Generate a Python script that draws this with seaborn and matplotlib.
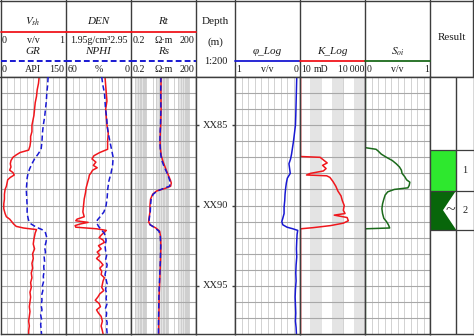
import matplotlib
matplotlib.use("Agg")
import matplotlib.pyplot as plt
from matplotlib.lines import Line2D
from matplotlib.patches import Rectangle, Polygon
from matplotlib.ticker import FixedLocator, LogLocator, NullFormatter
import numpy as np
import seaborn as sns

# ---------------- log curves (depth in m) ----------------
vsh_depth = [82.0, 82.4, 82.8, 83.2, 83.6, 84.0, 84.4, 85.0, 85.4, 85.7, 86.0, 86.3, 86.55, 86.7,
             86.85, 87.0, 87.2, 87.4, 87.6, 87.8, 87.95, 88.1, 88.25, 88.4, 88.6, 88.8, 89.0, 89.3,
             89.6, 89.9, 90.2, 90.5, 90.7, 90.85, 91.0, 91.15, 91.3, 91.4, 91.5, 91.7, 91.9, 92.1,
             92.4, 92.7, 93.0, 93.3, 93.6, 93.9, 94.2, 94.5, 94.8, 95.1, 95.4, 95.7, 96.0, 96.3,
             96.6, 96.9, 97.2, 97.5, 97.8, 98.0]
vsh = [0.59, 0.58, 0.56, 0.55, 0.53, 0.52, 0.51, 0.48, 0.48, 0.46, 0.46, 0.45, 0.43, 0.30,
       0.24, 0.19, 0.16, 0.15, 0.16, 0.14, 0.19, 0.21, 0.15, 0.11, 0.10, 0.09, 0.07, 0.06,
       0.06, 0.05, 0.05, 0.07, 0.09, 0.14, 0.17, 0.20, 0.24, 0.35, 0.55, 0.53, 0.52, 0.51,
       0.50, 0.52, 0.49, 0.50, 0.48, 0.49, 0.47, 0.48, 0.46, 0.47, 0.45, 0.46, 0.45, 0.44,
       0.45, 0.44, 0.43, 0.44, 0.43, 0.43]

gr_depth = [82.0, 82.5, 83.0, 83.5, 84.0, 84.5, 85.0, 85.5, 86.0, 86.5, 86.8, 87.1, 87.4, 87.7,
            88.0, 88.3, 88.7, 89.0, 89.5, 90.0, 90.5, 90.9, 91.15, 91.35, 91.5, 91.7, 92.0, 92.3,
            92.6, 92.9, 93.2, 93.5, 93.8, 94.1, 94.4, 94.7, 95.0, 95.3, 95.6, 95.9, 96.2, 96.5,
            96.8, 97.1, 97.4, 97.7, 98.0]
gr = [109, 108, 106, 105, 103, 101, 98, 96, 95, 93, 86, 78, 72, 67,
      63, 61, 60, 59, 60, 61, 61, 64, 70, 82, 95, 103, 106, 104,
      101, 103, 100, 101, 99, 100, 98, 99, 96, 97, 94, 95, 93, 95,
      92, 94, 92, 93, 94]

den_depth = [82.0, 82.5, 83.0, 83.5, 84.0, 84.5, 85.0, 85.5, 86.0, 86.5, 86.7, 86.9, 87.1, 87.3,
             87.5, 87.65, 87.8, 88.0, 88.1, 88.3, 88.6, 88.9, 89.2, 89.6, 90.0, 90.4, 90.7, 90.85,
             90.95, 91.05, 91.15, 91.25, 91.35, 91.45, 91.55, 91.7, 91.85, 92.0, 92.15, 92.3, 92.5,
             92.7, 92.9, 93.1, 93.3, 93.5, 93.7, 93.9, 94.1, 94.3, 94.5, 94.7, 94.9, 95.1, 95.3,
             95.5, 95.7, 95.9, 96.1, 96.3, 96.5, 96.7, 96.9, 97.2, 97.5, 97.8, 98.0]
den = [2.55, 2.56, 2.57, 2.58, 2.56, 2.57, 2.58, 2.60, 2.59, 2.59, 2.47, 2.38, 2.35, 2.41,
       2.37, 2.43, 2.36, 2.33, 2.31, 2.30, 2.28, 2.26, 2.25, 2.23, 2.22, 2.21, 2.23, 2.12,
       2.10, 2.29, 2.17, 2.09, 2.10, 2.42, 2.57, 2.53, 2.49, 2.46, 2.52, 2.54, 2.45,
       2.49, 2.43, 2.47, 2.42, 2.48, 2.52, 2.47, 2.50, 2.49, 2.54, 2.52, 2.51, 2.50, 2.53,
       2.47, 2.44, 2.40, 2.46, 2.48, 2.42, 2.45, 2.49, 2.51, 2.49, 2.51, 2.52]

nphi_depth = [82.0, 82.5, 83.0, 83.5, 84.0, 84.5, 85.0, 85.5, 86.0, 86.5, 87.0, 87.5, 88.0, 88.5,
              89.0, 89.5, 90.0, 90.4, 90.7, 90.9, 91.1, 91.3, 91.5, 91.7, 91.9, 92.2, 92.5, 92.8,
              93.1, 93.4, 93.7, 94.0, 94.3, 94.6, 94.9, 95.2, 95.5, 95.8, 96.1, 96.4, 96.7, 97.0,
              97.3, 97.6, 98.0]
nphi = [27, 26, 24.5, 24, 23.5, 22.5, 22, 21, 19.5, 18, 16.5, 17, 18.5, 20.5,
        21.5, 22, 23, 25, 28.5, 31, 31.5, 30, 27.5, 25, 23.5, 23, 24, 23.5,
        22.5, 23.5, 22, 23, 24, 23, 22, 23.5, 22.5, 23, 22, 23.5, 22.5, 23,
        22, 22.5, 22]

res_depth = [82.0, 83.0, 84.0, 85.0, 85.5, 86.0, 86.5, 86.9, 87.2, 87.5, 87.8, 88.1, 88.4, 88.6,
             88.8, 88.95, 89.1, 89.3, 89.6, 90.0, 90.4, 90.8, 91.0, 91.2, 91.4, 91.6, 91.9, 92.5,
             93.5, 94.5, 95.5, 96.5, 97.5, 98.0]
rt = [4.9, 4.8, 4.9, 4.7, 4.5, 4.4, 4.6, 5.0, 5.8, 7.0, 8.5, 10.5, 13.0, 14.5,
      13.5, 7.0, 3.0, 2.0, 1.6, 1.5, 1.5, 1.35, 1.3, 1.5, 2.8, 4.2, 4.6, 4.8,
      4.6, 4.3, 4.0, 3.9, 3.8, 3.8]
rs = [4.8, 4.7, 4.8, 4.6, 4.4, 4.3, 4.5, 4.8, 5.3, 6.4, 8.0, 10.0, 12.0, 13.0,
      12.0, 6.0, 3.2, 2.1, 1.7, 1.6, 1.55, 1.4, 1.35, 1.55, 2.6, 3.9, 4.5, 4.7,
      4.5, 4.2, 3.9, 3.8, 3.7, 3.7]

phi_depth = [82.0, 82.8, 83.6, 84.4, 85.0, 85.5, 86.0, 86.4, 86.8, 87.1, 87.4, 87.7, 88.0, 88.3,
             88.6, 88.9, 89.3, 89.7, 90.1, 90.5, 90.8, 91.0, 91.2, 91.35, 91.45, 91.55, 91.8,
             92.2, 92.7, 93.2, 93.7, 94.2, 94.7, 95.2, 95.7, 96.2, 96.7, 97.2, 97.6, 98.0]
phi = [0.05, 0.055, 0.06, 0.065, 0.07, 0.085, 0.10, 0.115, 0.13, 0.145, 0.17, 0.16, 0.15, 0.195,
       0.21, 0.22, 0.23, 0.235, 0.245, 0.245, 0.265, 0.28, 0.265, 0.20, 0.11, 0.035, 0.045,
       0.05, 0.055, 0.05, 0.06, 0.065, 0.06, 0.07, 0.075, 0.07, 0.065, 0.07, 0.06, 0.055]

perm_depth = [82.0, 86.95, 87.0, 87.2, 87.35, 87.5, 87.7, 87.85, 88.0, 88.1, 88.15, 88.25, 88.5,
              88.8, 89.1, 89.4, 89.7, 90.0, 90.3, 90.5, 90.6, 90.75, 90.95, 91.1, 91.25, 91.38,
              91.45, 98.0]
perm = [10.6, 10.6, 85, 130, 180, 110, 160, 120, 30, 20, 170, 240, 330,
        450, 560, 780, 900, 1100, 1000, 1200, 380, 1500, 1700, 1000, 260, 40,
        10.6, 10.6]

soil_depth = [82.0, 86.4, 86.5, 86.6, 86.8, 87.0, 87.2, 87.4, 87.6, 87.8, 88.0, 88.2, 88.4, 88.55,
              88.75, 88.9, 89.0, 89.15, 89.35, 89.6, 89.9, 90.2, 90.5, 90.8, 91.0, 91.2, 91.4,
              91.45, 98.0]
soil = [0.006, 0.006, 0.17, 0.20, 0.25, 0.33, 0.42, 0.48, 0.53, 0.56, 0.57, 0.61, 0.64, 0.69,
        0.68, 0.66, 0.45, 0.35, 0.31, 0.29, 0.27, 0.26, 0.27, 0.29, 0.33, 0.36, 0.38,
        0.006, 0.006]

# interpretation result
layer_top = [86.53, 89.08]
layer_base = [89.08, 91.50]
layer_label = ["1", "2"]

depth_labels = [85, 90, 95]
DEPTH_TOP, DEPTH_BASE = 82, 98

# ---------------- styling ----------------
sns.set_theme(style="white")
plt.rcParams["font.family"] = ["Liberation Serif", "DejaVu Serif"]
plt.rcParams["mathtext.fontset"] = "stix"

EDGE = "#3d3d3d"
HGRID = "#a8a8a8"
VGRID = "#cbcbcb"
BAND = "#e4e4e4"
RED = "#f0161c"
BLUE = "#1818d2"
GREEN = "#1b6a1b"
DASH = (0, (3.5, 2.0))

W, H = 474, 336
TOP, BOT = 77, 334

fig = plt.figure(figsize=(W / 100, H / 100), dpi=100)
fig.patch.set_facecolor("white")

# header canvas in pixel units
hax = fig.add_axes([0, 0, 1, 1], zorder=0)
hax.set_xlim(0, W)
hax.set_ylim(H, 0)
hax.axis("off")


def box(x0, x1):
    return [x0 / W, 1 - BOT / H, (x1 - x0) / W, (BOT - TOP) / H]


def style_track(ax, log=False):
    ax.set_ylim(DEPTH_BASE, DEPTH_TOP)
    ax.yaxis.set_major_locator(FixedLocator(list(range(DEPTH_TOP, DEPTH_BASE + 1))))
    if log:
        lo, hi = ax.get_xlim()
        ax.set_xscale("log")
        ax.xaxis.set_major_locator(LogLocator(base=10))
        ax.xaxis.set_minor_locator(LogLocator(base=10, subs=np.arange(2, 10)))
        ax.xaxis.set_minor_formatter(NullFormatter())
        ax.grid(axis="x", which="both", color=VGRID, lw=0.6)
        # shaded upper part of every decade, where the log grid crowds together
        for k in range(-1, 4):
            a, b = max(3 * 10.0 ** k, lo), min(10.0 ** (k + 1), hi)
            if a < b:
                ax.axvspan(a, b, color=BAND, lw=0, zorder=0)
        ax.set_xlim(lo, hi)
    else:
        lo, hi = ax.get_xlim()
        ax.xaxis.set_major_locator(FixedLocator(np.linspace(lo, hi, 11)))
        ax.grid(axis="x", which="major", color=VGRID, lw=0.6)
    ax.grid(axis="y", which="major", color=HGRID, lw=0.8)
    ax.set_axisbelow(True)
    ax.tick_params(which="both", length=0, labelbottom=False, labelleft=False,
                   labeltop=False, labelright=False)
    ax.set_xlabel("")
    ax.set_ylabel("")
    for sp in ax.spines.values():
        sp.set_color(EDGE)
        sp.set_linewidth(1.0)


def twin(ax, lim):
    t = ax.twiny()
    t.set_xlim(*lim)
    t.set_ylim(DEPTH_BASE, DEPTH_TOP)
    t.tick_params(which="both", length=0, labeltop=False, labelbottom=False)
    for sp in t.spines.values():
        sp.set_visible(False)
    return t


def curve(ax, x, y, color, ls="-"):
    sns.lineplot(x=x, y=y, orient="y", sort=False, estimator=None, ax=ax,
                 color=color, lw=1.1, linestyle=ls)
    ax.set_xlabel("")
    ax.set_ylabel("")


# ---- track 1: Vsh / GR ----
ax1 = fig.add_axes(box(0.5, 66), zorder=2)
ax1.set_xlim(0, 1)
style_track(ax1)
curve(ax1, vsh, vsh_depth, RED)
t1 = twin(ax1, (0, 150))
curve(t1, gr, gr_depth, BLUE, DASH)

# ---- track 2: DEN / NPHI ----
ax2 = fig.add_axes(box(66, 131), zorder=2)
ax2.set_xlim(1.95, 2.95)
style_track(ax2)
curve(ax2, den, den_depth, RED)
t2 = twin(ax2, (60, 0))
curve(t2, nphi, nphi_depth, BLUE, DASH)

# ---- track 3: Rt / Rs ----
ax3 = fig.add_axes(box(131, 196), zorder=2)
ax3.set_xlim(0.2, 200)
style_track(ax3, log=True)
curve(ax3, rt, res_depth, RED)
curve(ax3, rs, res_depth, BLUE, DASH)

# ---- depth track ----
axd = fig.add_axes(box(196, 235), zorder=2)
axd.set_xlim(0, 1)
axd.set_ylim(DEPTH_BASE, DEPTH_TOP)
axd.set_xticks([])
axd.set_yticks(depth_labels)
axd.tick_params(axis="y", direction="in", length=2.5, width=1.0, color=EDGE,
                left=True, right=True, labelleft=False, labelright=False)
for sp in axd.spines.values():
    sp.set_color(EDGE)
    sp.set_linewidth(1.0)
for d in depth_labels:
    axd.text(0.5, d, f"XX{d}", ha="center", va="center", fontsize=7.5, color="#222222")

# ---- track 5: porosity ----
ax5 = fig.add_axes(box(235, 300), zorder=2)
ax5.set_xlim(1, 0)
style_track(ax5)
curve(ax5, phi, phi_depth, BLUE)

# ---- track 6: permeability ----
ax6 = fig.add_axes(box(300, 365), zorder=2)
ax6.set_xlim(10, 10000)
style_track(ax6, log=True)
curve(ax6, perm, perm_depth, RED)

# ---- track 7: oil saturation ----
ax7 = fig.add_axes(box(365, 430), zorder=2)
ax7.set_xlim(0, 1)
style_track(ax7)
curve(ax7, soil, soil_depth, GREEN)

# ---- result column ----
axr = fig.add_axes(box(430, 473.5), zorder=2)
axr.set_xlim(0, 43.5)
axr.set_ylim(DEPTH_BASE, DEPTH_TOP)
axr.set_xticks([])
axr.set_yticks([])
for sp in axr.spines.values():
    sp.set_color(EDGE)
    sp.set_linewidth(1.0)
fills = ["#2ee82e", "#08660a"]
for top, base, lab, fc in zip(layer_top, layer_base, layer_label, fills):
    axr.add_patch(Rectangle((0, top), 26, base - top, facecolor=fc, edgecolor="none"))
    axr.text(35, (top + base) / 2, lab, ha="center", va="center", fontsize=7.5, color="#222222")
# oil-water notch in layer 2
mid2 = (layer_top[1] + layer_base[1]) / 2
axr.add_patch(Polygon([(26, layer_top[1]), (13, mid2), (26, layer_base[1])],
                      closed=True, facecolor="white", edgecolor="none"))
axr.text(20, mid2, "~", ha="center", va="center", fontsize=13, color="#333333")
axr.axvline(26, color=EDGE, lw=1.0)
axr.hlines([layer_top[0], layer_base[0], layer_base[1]], 0, 43.5, color=EDGE, lw=0.9)

# ---------------- header ----------------
def hline(x0, x1, y, color, ls="-", lw=1.3):
    hax.add_line(Line2D([x0, x1], [y, y], color=color, lw=lw, linestyle=ls))


def htext(x, y, s, ha="center", size=7.5, style="normal"):
    hax.text(x, y, s, ha=ha, va="center", fontsize=size, fontstyle=style, color="#1a1a1a")


# frame
hline(0, W, 1, EDGE, lw=1.0)
hline(0, W, TOP, EDGE, lw=1.0)
for xv in [0.5, 66, 131, 196, 235, 300, 365, 430, 473.5]:
    hax.add_line(Line2D([xv, xv], [0, TOP], color=EDGE, lw=1.0))

left_tracks = [
    (0.5, 66, "$V_{sh}$", ("0", "v/v", "1"), "GR", ("0", "API", "150")),
    (66, 131, "DEN", None, "NPHI", ("60", "%", "0")),
    (131, 196, "Rt", ("0.2", "Ω·m", "200"), "Rs", ("0.2", "Ω·m", "200")),
]
for x0, x1, t_a, s_a, t_b, s_b in left_tracks:
    xc = (x0 + x1) / 2
    htext(xc, 22, t_a, style="italic", size=8)
    hline(x0, x1, 32, RED)
    if s_a is None:
        htext(xc + 0.5, 40.5, "1.95g/cm³2.95", size=7.2)
    else:
        htext(x0 + 1.5, 40.5, s_a[0], ha="left", size=7.2)
        htext(xc, 40.5, s_a[1], size=7.2)
        htext(x1 - 1.5, 40.5, s_a[2], ha="right", size=7.2)
    htext(xc, 51, t_b, style="italic", size=8)
    hline(x0, x1, 61, BLUE, ls=(0, (3.0, 1.6)), lw=1.4)
    htext(x0 + 1.5, 70, s_b[0], ha="left", size=7.2)
    htext(xc, 70, s_b[1], size=7.2)
    htext(x1 - 1.5, 70, s_b[2], ha="right", size=7.2)

htext(215.5, 21, "Depth", size=8)
htext(215.5, 42, "(m)", size=8)
htext(215.5, 61, "1:200", size=7.5)

right_tracks = [
    (235, 300, "φ_Log", BLUE, ("1", "v/v", "0"), 267.5),
    (300, 365, "K_Log", RED, ("10", "mD", "10\u2009000"), 321),
    (365, 430, "$S_{oi}$", GREEN, ("0", "v/v", "1"), 397.5),
]
for x0, x1, title, col, sc, xu in right_tracks:
    xc = (x0 + x1) / 2
    htext(xc, 52, title, style="italic", size=8)
    hline(x0, x1, 61, col)
    htext(x0 + 1.5, 70, sc[0], ha="left", size=7.0)
    htext(xu, 70, sc[1], size=7.0)
    htext(x1 - 1.0, 70, sc[2], ha="right", size=7.0)

htext(452, 37, "Result", size=8)

fig.savefig("out.png", dpi=100, facecolor="white")
